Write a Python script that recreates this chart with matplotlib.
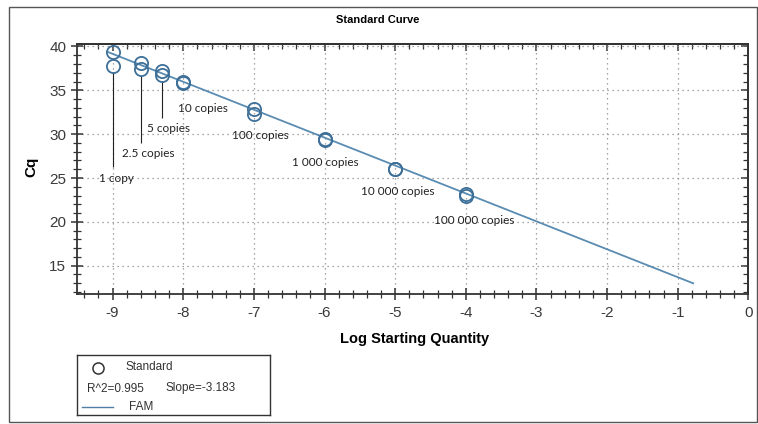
import matplotlib
matplotlib.use("Agg")
import matplotlib.pyplot as plt
from matplotlib.patches import Rectangle
from matplotlib.ticker import MultipleLocator

plt.rcParams["axes.unicode_minus"] = False

# standards: log starting quantity vs Cq (duplicates)
log_qty = [-9.0, -9.0, -8.6, -8.6, -8.3, -8.3, -8.0, -8.0, -7.0, -7.0,
           -6.0, -6.0, -5.0, -5.0, -4.0, -4.0]
cq = [39.37, 37.77, 38.08, 37.39, 37.23, 36.74, 35.98, 35.80, 32.83, 32.30,
      29.41, 29.35, 26.03, 25.98, 23.12, 22.98]

# fitted standard curve
slope = -3.183
intercept = 10.51
r2 = 0.995
fit_x = [-9.06, -0.78]

# copy-number labels
label_text = ["1 copy", "2.5 copies", "5 copies", "10 copies", "100 copies",
              "1 000 copies", "10 000 copies", "100 000 copies"]
label_x = [-8.94, -8.49, -8.21, -7.72, -6.91, -5.99, -4.96, -3.88]
label_y = [24.97, 27.74, 30.67, 32.95, 29.79, 26.79, 23.44, 20.21]

# leader lines from lowest circle down to the label
leader_x = [-9.0, -8.6, -8.3]
leader_top = [37.05, 36.67, 36.02]
leader_bottom = [26.29, 28.96, 31.81]

W, H = 758, 424
fig = plt.figure(figsize=(W / 100, H / 100), dpi=100)
fig.patch.set_facecolor("white")

tick_font = ["Liberation Sans Narrow", "Liberation Sans", "DejaVu Sans"]
ax = fig.add_axes([77.3 / W, (H - 294.3) / H, (748.3 - 77.3) / W, (294.3 - 44.0) / H])

ax.set_xlim(-9.5, 0)
ax.set_ylim(11.74, 40.28)
ax.xaxis.set_major_locator(MultipleLocator(1))
ax.xaxis.set_minor_locator(MultipleLocator(0.2))
ax.yaxis.set_major_locator(MultipleLocator(5))
ax.yaxis.set_minor_locator(MultipleLocator(1))

ax.grid(True, which="major", color="#8a8a8a", linestyle=(0, (1, 3)), linewidth=0.9)
ax.set_axisbelow(True)

for s in ax.spines.values():
    s.set_color("#333333")
    s.set_linewidth(1.3)

ax.tick_params(which="both", direction="inout", colors="#333333", top=False, right=False,
               labelsize=11, labelcolor="#3a3a3a")
ax.tick_params(which="major", length=9, width=1.1)
ax.tick_params(which="minor", length=6, width=0.9)
ax.tick_params(axis="x", which="both", pad=4)
for lbl in ax.get_xticklabels() + ax.get_yticklabels():
    lbl.set_family(tick_font)

# inward ticks on the top and right frame
top = ax.secondary_xaxis("top")
top.xaxis.set_major_locator(MultipleLocator(1))
top.xaxis.set_minor_locator(MultipleLocator(0.2))
right = ax.secondary_yaxis("right")
right.yaxis.set_major_locator(MultipleLocator(5))
right.yaxis.set_minor_locator(MultipleLocator(1))
for sec in (top, right):
    sec.tick_params(which="both", direction="in", colors="#333333", labelleft=False,
                    labelright=False, labeltop=False, labelbottom=False)
    sec.tick_params(which="major", length=5, width=1.1)
    sec.tick_params(which="minor", length=3.5, width=0.9)
    for s in sec.spines.values():
        s.set_color("#333333")
        s.set_linewidth(1.3)

# fit line
fit_y = [intercept + slope * v for v in fit_x]
ax.plot(fit_x, fit_y, color="#5a8cb2", linewidth=1.3, zorder=3)

# standards
ax.plot(log_qty, cq, linestyle="none", marker="o", markersize=9.5,
        markerfacecolor="none", markeredgecolor="#3d6f98", markeredgewidth=1.3, zorder=4)

# leader lines
ax.vlines(leader_x, leader_bottom, leader_top, color="#222222", linewidth=0.8, zorder=2)

for t, x, y in zip(label_text, label_x, label_y):
    ax.text(x, y, t, ha="center", va="center", fontsize=8.5,
            family=["Lato", "DejaVu Sans"], color="#222222", zorder=5)

fig.text(378 / W, 1 - 20 / H, "Standard Curve", ha="center", va="center",
         fontsize=8, fontweight="bold", family=tick_font)
fig.text(415 / W, 1 - 339 / H, "Log Starting Quantity", ha="center", va="center",
         fontsize=10.5, fontweight="bold", family=["Liberation Sans", "DejaVu Sans"])
fig.text(31.7 / W, 1 - 166.7 / H, "Cq", ha="center", va="center", rotation=90,
         fontsize=11, fontweight="bold", family=["Liberation Sans", "DejaVu Sans"])

# legend box drawn in pixel units
leg = fig.add_axes([76.7 / W, (H - 415) / H, (270 - 76.7) / W, (415 - 355) / H])
leg.set_xlim(0, 193.3)
leg.set_ylim(60, 0)
leg.set_xticks([])
leg.set_yticks([])
for s in leg.spines.values():
    s.set_color("#333333")
    s.set_linewidth(1.0)
leg_font = ["Liberation Sans", "DejaVu Sans"]
leg.plot([21], [12.7], marker="o", markersize=8, markerfacecolor="none",
         markeredgecolor="#333333", markeredgewidth=1.1)
leg.text(48.5, 12.3, "Standard", va="center", fontsize=8.5, family=leg_font, color="#333333")
leg.text(10.6, 33.5, "R^2=0.995", va="center", fontsize=8.5, family=leg_font, color="#333333")
leg.text(88.5, 33.0, "Slope=-3.183", va="center", fontsize=8.5, family=leg_font, color="#333333")
leg.plot([5.5, 36.5], [52.3, 52.3], color="#4f7fa6", linewidth=1.0)
leg.text(52.5, 52.0, "FAM", va="center", fontsize=8.5, family=leg_font, color="#333333")

# outer frame
fig.add_artist(Rectangle((9 / W, 1 - 422 / H), (757 - 9) / W, (422 - 7) / H,
                         transform=fig.transFigure, fill=False,
                         edgecolor="#555555", linewidth=1.0))

fig.savefig("out.png", dpi=100)
